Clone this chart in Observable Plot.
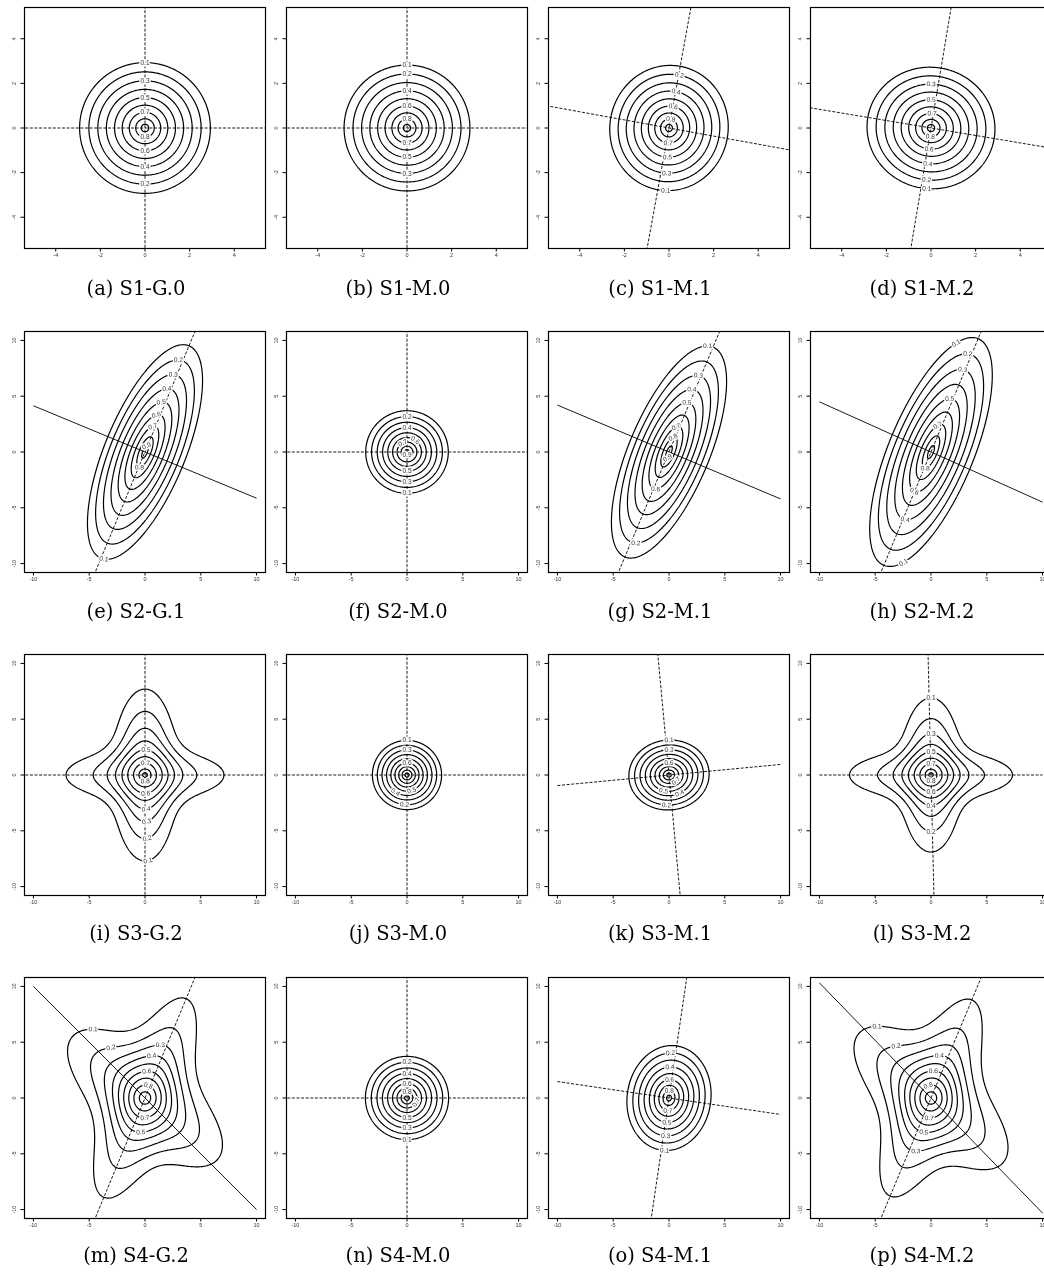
<!DOCTYPE html>
<html>
<head>
<meta charset="utf-8">
<script src="https://cdn.jsdelivr.net/npm/d3@7"></script>
<script src="https://cdn.jsdelivr.net/npm/@observablehq/plot@0.6"></script>
<style>
  html, body { margin: 0; padding: 0; background: #fff; }
  body { width: 1044px; height: 1273px; overflow: hidden; position: relative; }
  .panel { position: absolute; filter: grayscale(100%); }
  .cap { position: absolute; font-family: "DejaVu Serif", serif; font-size: 19.5px; line-height: 19px; color: #000; white-space: nowrap; transform: translateX(-50%); filter: grayscale(100%); }
</style>
</head>
<body>
<script>
// ---------------- data ----------------
const panelLetters = ["a","b","c","d","e","f","g","h","i","j","k","l","m","n","o","p"];
const panelNames = ["S1-G.0","S1-M.0","S1-M.1","S1-M.2","S2-G.1","S2-M.0","S2-M.1","S2-M.2",
                    "S3-G.2","S3-M.0","S3-M.1","S3-M.2","S4-G.2","S4-M.0","S4-M.1","S4-M.2"];
const rowLimits = [5, 10, 10, 10];
const rowTicks = [[-4,-2,0,2,4],[-10,-5,0,5,10],[-10,-5,0,5,10],[-10,-5,0,5,10]];
const contourLevels = [0.1,0.2,0.3,0.4,0.5,0.6,0.7,0.8,0.9];

// reference lines (degrees)
const shallowLineAngle = [0,0,-10.3,-9.5,-22.5,0,-22.8,-24.2,0,0,5.4,0,-45,0,-8.4,-45.9];
const steepLineAngle   = [90,90,79.7,80.5,67.5,90,67.2,67.4,90,90,95.3,91.4,67.5,90,81.6,67.4];
const shallowLineFull  = [true,true,true,true,false,true,false,false,true,true,false,false,false,true,false,false];
const shallowLineSolid = [false,false,false,false,true,false,true,true,false,false,false,false,true,false,false,true];

// contour shapes
const shapeKind   = ["ell","ell","ell","ell","ell","ell","ell","ell","mix","ell","ell","mix","mix","ell","ell","mix"];
const ellipseAngle = [0,0,-10.3,-9.5,67.5,0,67.2,67.4,0,0,5.4,0,0,0,-8.4,0];
const ellipseR1    = [2.93,2.82,2.65,2.87,10.3,3.7,10.2,11.0,0,3.1,3.6,0,0,3.73,3.75,0];
const ellipseR2    = [2.93,2.82,2.81,2.72,3.6,3.7,3.6,3.8,0,3.1,3.13,0,0,3.73,4.72,0];
// lobes: [angle, weight, long scale, short scale]
const lobesI = [[90,0.463,6.22,2.40],[0,0.306,6.69,2.10]];
const lobesL = [[90,0.445,5.65,2.30],[0,0.321,6.76,2.00]];
const lobesM = [[67.5,0.36,8.5,2.6],[140,0.366,7.46,3.2]];
const lobesP = [[67.4,0.36,8.4,2.6],[138,0.366,7.6,3.2]];
const mixLobes = {8: lobesI, 11: lobesL, 12: lobesM, 15: lobesP};
const mixCore  = {8: 0.38, 11: 0.38, 12: 1.4, 15: 1.4};

// contour labels: [level, direction angle from centre]
const contourLabels = [
  [[0.1,90],[0.3,90],[0.5,90],[0.7,90],[0.8,270],[0.6,270],[0.4,270],[0.2,270]],
  [[0.1,90],[0.2,90],[0.4,90],[0.6,90],[0.8,90],[0.7,270],[0.5,270],[0.3,270]],
  [[0.2,79],[0.4,79],[0.6,79],[0.8,79],[0.7,267],[0.5,267],[0.3,267],[0.1,267]],
  [[0.3,90],[0.5,90],[0.7,86],[0.8,265],[0.6,265],[0.4,265],[0.2,265],[0.1,266]],
  [[0.2,70],[0.3,70],[0.4,71],[0.5,72],[0.6,73],[0.7,73],[0.9,75],[0.8,250],[0.1,249]],
  [[0.2,90],[0.4,90],[0.6,55],[0.7,115],[0.9,270],[0.5,270],[0.3,270],[0.1,270]],
  [[0.1,70],[0.3,69],[0.4,70],[0.5,70],[0.7,74],[0.8,75],[0.9,256],[0.6,250],[0.2,250]],
  [[0.1,77],[0.2,69.5],[0.3,69],[0.5,70.7],[0.7,76],[0.8,250],[0.6,247],[0.4,249],[0.1,256]],
  [[0.5,88],[0.7,88],[0.8,272],[0.6,272],[0.4,272],[0.3,272],[0.2,272],[0.1,272]],
  [[0.1,90],[0.3,90],[0.6,90],[0.4,236],[0.5,287],[0.2,265]],
  [[0.1,90],[0.3,90],[0.6,90],[0.7,-40],[0.5,251],[0.4,300],[0.2,265]],
  [[0.1,90],[0.3,90],[0.5,90],[0.7,90],[0.8,270],[0.6,270],[0.4,270],[0.2,270]],
  [[0.1,127],[0.2,124],[0.3,74],[0.4,81],[0.6,86],[0.8,75],[0.7,270],[0.5,263]],
  [[0.2,90],[0.4,90],[0.6,90],[0.8,90],[0.7,-25],[0.5,270],[0.3,270],[0.1,270]],
  [[0.2,88],[0.4,88],[0.6,88],[0.8,88],[0.7,265],[0.5,265],[0.3,265],[0.1,265]],
  [[0.1,127],[0.2,124],[0.4,79],[0.6,85],[0.8,103],[0.7,265],[0.5,258],[0.3,254]]
];

// ---------------- layout ----------------
const colStride = 262;
const rowTops = [7.3, 330.7, 654, 977.3];
const captionBaselines = [294.5, 617, 939.5, 1261];
const captionCenter0 = 136;
const ML = 24, MR = 5, MT = 7, MB = 18, FRAME = 241;

const rad = (d) => d * Math.PI / 180;

function makeDepth(i) {
  if (shapeKind[i] === "ell") {
    const a = rad(ellipseAngle[i]), c = Math.cos(a), s = Math.sin(a);
    const r1 = ellipseR1[i], r2 = ellipseR2[i];
    return (x, y) => {
      const u = x * c + y * s, v = -x * s + y * c;
      return 1 - 0.9 * Math.pow(Math.hypot(u / r1, v / r2), 0.77);
    };
  }
  const lobes = mixLobes[i].map(([ang, w, L, S]) => ({c: Math.cos(rad(ang)), s: Math.sin(rad(ang)), w, L, S}));
  const wc = 1 - d3.sum(lobes, (l) => l.w);
  const sc = mixCore[i];
  return (x, y) => {
    let d = wc * Math.exp(-Math.hypot(x, y) / sc);
    for (const l of lobes) {
      const u = x * l.c + y * l.s, v = -x * l.s + y * l.c;
      d += l.w * Math.exp(-(u * u) / (l.L * l.L) - (v * v) / (l.S * l.S));
    }
    return d;
  };
}

function labelPoint(f, level, ang) {
  const c = Math.cos(rad(ang)), s = Math.sin(rad(ang));
  let r = 0;
  for (let t = 0.005; t < 30; t += 0.005) { if (f(t * c, t * s) <= level) { r = t; break; } }
  const x = r * c, y = r * s, h = 1e-3;
  const gx = (f(x + h, y) - f(x - h, y)) / (2 * h);
  const gy = (f(x, y + h) - f(x, y - h)) / (2 * h);
  let rot = Math.atan2(-gx, -gy) * 180 / Math.PI;
  if (rot > 90) rot -= 180;
  if (rot <= -90) rot += 180;
  return {x, y, t: String(level), rot};
}

function lineSegments(i) {
  const a = rad(shallowLineAngle[i]), ta = Math.tan(a);
  const xs = shallowLineFull[i] ? 40 : 10;
  const b = rad(steepLineAngle[i]);
  return {
    shallow: [{x1: -xs, y1: -xs * ta, x2: xs, y2: xs * ta}],
    steep: [{x1: -40 * Math.cos(b), y1: -40 * Math.sin(b), x2: 40 * Math.cos(b), y2: 40 * Math.sin(b)}]
  };
}

for (let i = 0; i < 16; i++) {
  const row = Math.floor(i / 4), col = i % 4;
  const lim = rowLimits[row] * 1.08;
  const ticks = rowTicks[row];
  const f = makeDepth(i);
  const labels = contourLabels[i].map(([lev, ang]) => labelPoint(f, lev, ang));
  const segs = lineSegments(i);
  const dashed = [segs.steep[0]];
  const solid = [];
  (shallowLineSolid[i] ? solid : dashed).push(segs.shallow[0]);

  const chart = Plot.plot({
    width: ML + FRAME + MR,
    height: MT + FRAME + MB,
    marginLeft: ML, marginRight: MR, marginTop: MT, marginBottom: MB,
    style: {background: "transparent", overflow: "visible", fontFamily: "Liberation Sans, Arial, sans-serif"},
    x: {domain: [-lim, lim]},
    y: {domain: [-lim, lim]},
    marks: [
      Plot.contour({value: f, x1: -lim, x2: lim, y1: -lim, y2: lim, thresholds: contourLevels,
                    stroke: "black", strokeWidth: 1.2, pixelSize: 1}),
      Plot.link(dashed, {x1: "x1", y1: "y1", x2: "x2", y2: "y2", stroke: "black", strokeWidth: 0.9,
                         strokeDasharray: "3,1.6", clip: true}),
      Plot.link(solid, {x1: "x1", y1: "y1", x2: "x2", y2: "y2", stroke: "black", strokeWidth: 0.9, clip: true}),
      Plot.text(labels, {x: "x", y: "y", text: "t", rotate: "rot", fontSize: 6.6, fill: "#333",
                         stroke: "white", strokeWidth: 3, fontFamily: "Liberation Sans, Arial, sans-serif"}),
      Plot.frame({stroke: "black", strokeWidth: 1.2}),
      Plot.axisX(ticks, {tickSize: 3.5, tickPadding: 1.5, fontSize: 5.5, tickFormat: (d) => String(d), label: null, fill: "#333"}),
      Plot.axisY(ticks, {tickSize: 3.5, tickFormat: () => "", label: null}),
      Plot.text(ticks, {y: (d) => d, text: (d) => String(d), frameAnchor: "left", dx: -10.5, rotate: -90,
                        fontSize: 5.5, fill: "#333", textAnchor: "middle"})
    ]
  });
  chart.classList.add("panel");
  chart.style.left = (col * colStride) + "px";
  chart.style.top = (rowTops[row] - MT) + "px";
  document.body.appendChild(chart);

  const cap = document.createElement("div");
  cap.className = "cap";
  cap.textContent = "(" + panelLetters[i] + ") " + panelNames[i];
  cap.style.left = (captionCenter0 + col * colStride) + "px";
  cap.style.top = (captionBaselines[row] - 15.5) + "px";
  document.body.appendChild(cap);
}
</script>
</body>
</html>
